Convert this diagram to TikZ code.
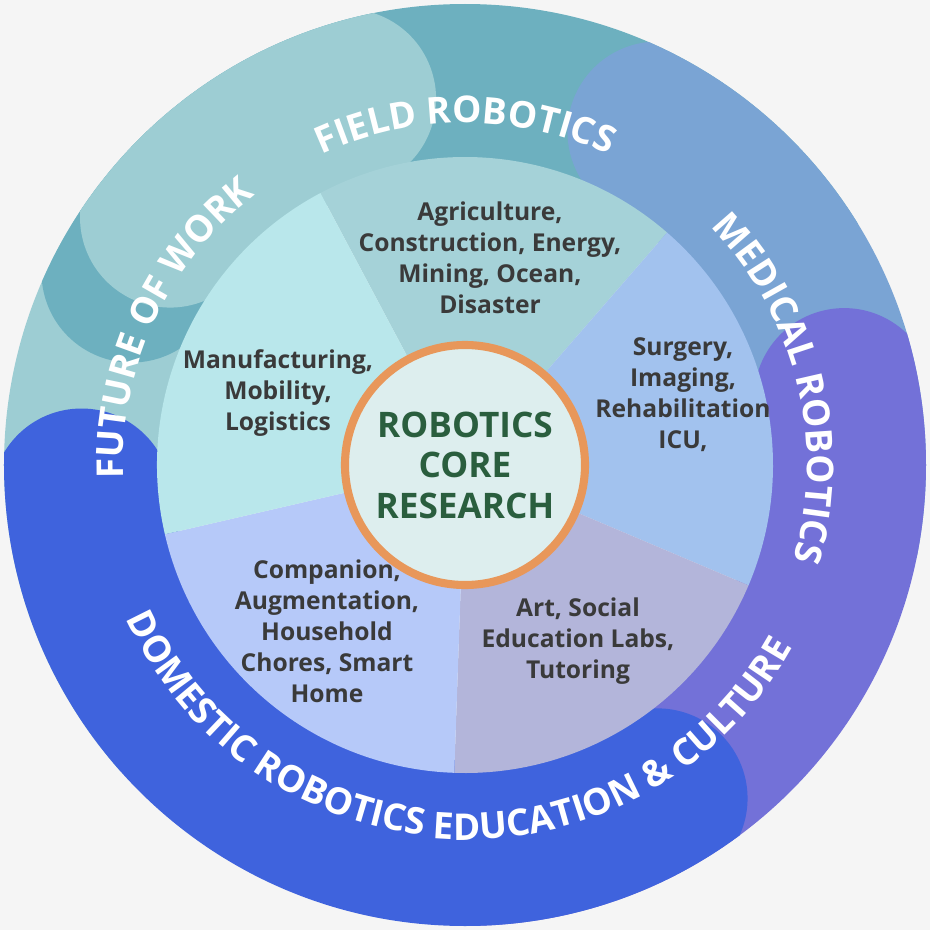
\documentclass[tikz,border=0pt]{standalone}
\usepackage{fontspec}
\setmainfont{Open Sans}
\usetikzlibrary{decorations.text}
\definecolor{bgcol}{HTML}{F5F5F5}
\definecolor{futband}{HTML}{9DCDD3}
\definecolor{fieldband}{HTML}{6DB0BF}
\definecolor{medband}{HTML}{7AA4D4}
\definecolor{eduband}{HTML}{7371D8}
\definecolor{domband}{HTML}{3F63DD}
\definecolor{futsec}{HTML}{B9E7EB}
\definecolor{fieldsec}{HTML}{A5D2D8}
\definecolor{medsec}{HTML}{A2C2EE}
\definecolor{edusec}{HTML}{B3B5DA}
\definecolor{domsec}{HTML}{B6C9F9}
\definecolor{corefill}{HTML}{DDEEEE}
\definecolor{corering}{HTML}{E8975A}
\definecolor{coretext}{HTML}{2A5E3E}
\definecolor{areatext}{HTML}{3A3A3A}

\begin{document}
\begin{tikzpicture}[
  x=0.01cm, y=0.01cm,
  band/.style={line width=1.8cm},
  area/.style={align=center, text=areatext, font=\fontsize{7}{8.8}\selectfont\bfseries},
  cwlabel/.style={decorate, decoration={text along path, text align=center,
    text={|\color{white}\fontsize{10.5}{10.5}\selectfont\bfseries|#1}}},
]

\fill [bgcol] (-465,-465) rectangle (465,465);
\useasboundingbox (-465,-465) rectangle (465,465);

\begin{scope}
\clip (0,0) circle [radius=461];
\draw [band, futband, line cap=round] (215:385) arc [start angle=215, end angle=108, radius=385];
\draw [band, fieldband, line cap=round] (150:385) arc [start angle=150, end angle=38, radius=385];
\draw [band, medband, line cap=round] (60:385) arc [start angle=60, end angle=-5, radius=385];
\draw [band, eduband, line cap=round] (10:385) arc [start angle=10, end angle=-82, radius=385];
\draw [band, domband, line cap=round] (-60:385) arc [start angle=-60, end angle=-175, radius=385];
\draw [band, futband, line cap=round] (140:385) arc [start angle=140, end angle=108, radius=385];
\end{scope}

% inner sectors
\fill [fieldsec] (0,0) -- (118:308) arc [start angle=118, end angle=49, radius=308] -- cycle;
\fill [medsec] (0,0) -- (49:308) arc [start angle=49, end angle=-23, radius=308] -- cycle;
\fill [edusec] (0,0) -- (-23:308) arc [start angle=-23, end angle=-92, radius=308] -- cycle;
\fill [domsec] (0,0) -- (-92:308) arc [start angle=-92, end angle=-167, radius=308] -- cycle;
\fill [futsec] (0,0) -- (193:308) arc [start angle=193, end angle=118, radius=308] -- cycle;

\node (field) [area] at (25,207) {Agriculture,\\Construction, Energy,\\Mining, Ocean,\\Disaster};
\node (future) [area] at (-187,72) {Manufacturing,\\Mobility,\\Logistics};
\node (medical) [area] at (218,70) {Surgery,\\Imaging,\\Rehabilitation\\ICU,};
\node (edu) [area] at (113,-176) {Art, Social\\Education Labs,\\Tutoring};
\node (dom) [area] at (-138,-166) {Companion,\\Augmentation,\\Household\\Chores, Smart\\Home};

\filldraw [fill=corefill, draw=corering, line width=2.3pt] (0,0) circle [radius=120];
\node (core) [align=center, text=coretext, font=\fontsize{10}{11.5}\selectfont\bfseries] at (0,0) {ROBOTICS\\CORE\\RESEARCH};

% ring labels
\path [cwlabel=FIELD ROBOTICS] (150:342) arc [start angle=150, end angle=30, radius=342];
\path [cwlabel=MEDICAL ROBOTICS] (74:342) arc [start angle=74, end angle=-46, radius=342];
\path [cwlabel=FUTURE OF WORK] (215:342) arc [start angle=215, end angle=95, radius=342];
\path [cwlabel=DOMESTIC ROBOTICS] (174:372) arc [start angle=174, end angle=294, radius=372];
\path [cwlabel=EDUCATION {\&} CULTURE] (-122:375) arc [start angle=-122, end angle=-2, radius=375];

\end{tikzpicture}
\end{document}
